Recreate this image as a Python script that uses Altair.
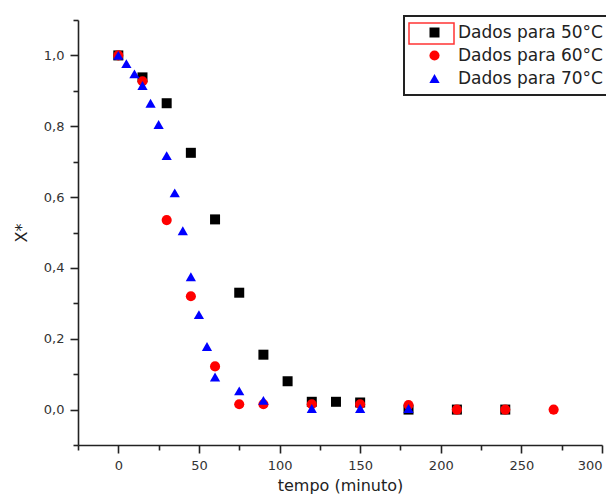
import altair as alt
import pandas as pd

series = ["Dados para 50°C", "Dados para 60°C", "Dados para 70°C"]

t50 = [0, 15, 30, 45, 60, 75, 90, 105, 120, 135, 150, 180, 210, 240]
x50 = [1.0, 0.938, 0.865, 0.725, 0.537, 0.33, 0.155, 0.08, 0.022, 0.022, 0.02, 0.0, 0.0, 0.0]

t60 = [0, 15, 30, 45, 60, 75, 90, 120, 150, 180, 210, 240, 270]
x60 = [1.0, 0.927, 0.535, 0.32, 0.122, 0.015, 0.015, 0.015, 0.015, 0.013, 0.0, 0.0, 0.0]

t70 = [0, 5, 10, 15, 20, 25, 30, 35, 40, 45, 50, 55, 60, 75, 90, 120, 150, 180]
x70 = [1.0, 0.977, 0.948, 0.915, 0.865, 0.805, 0.717, 0.612, 0.505, 0.375, 0.268, 0.178,
       0.092, 0.053, 0.026, 0.003, 0.003, 0.003]

x_ticks = [-25, 0, 25, 50, 75, 100, 125, 150, 175, 200, 225, 250, 275, 300]
y_ticks = [-0.1, 0.0, 0.1, 0.2, 0.3, 0.4, 0.5, 0.6, 0.7, 0.8, 0.9, 1.0, 1.1]

rows = []
for name, ts, xs in zip(series, [t50, t60, t70], [x50, x60, x70]):
    for t, v in zip(ts, xs):
        rows.append({"tempo": t, "X": v, "serie": name})
df = pd.DataFrame(rows)

axis_color = "#222222"
font = "DejaVu Sans"

points = alt.Chart(df).mark_point(filled=True, opacity=1, strokeWidth=0).encode(
    x=alt.X("tempo:Q",
            scale=alt.Scale(domain=[-25, 300], nice=False, zero=False),
            axis=alt.Axis(values=x_ticks, title="tempo (minuto)", grid=False,
                          labelExpr="datum.value % 50 === 0 ? datum.label : ''",
                          tickSize={"condition": {"test": "datum.value % 50 === 0", "value": 8}, "value": 5},
                          labelPadding=6, titlePadding=5)),
    y=alt.Y("X:Q",
            scale=alt.Scale(domain=[-0.1, 1.1], nice=False, zero=False),
            axis=alt.Axis(values=y_ticks, title="X*", grid=False,
                          labelExpr="abs(round(datum.value*10)) % 2 === 0 ? replace(format(datum.value, '.1f'), '.', ',') : ''",
                          tickSize={"condition": {"test": "abs(round(datum.value*10)) % 2 === 0", "value": 8}, "value": 5},
                          labelPadding=6, titlePadding=14)),
    color=alt.Color("serie:N", scale=alt.Scale(domain=series, range=["black", "red", "blue"]),
                    legend=alt.Legend(title=None, orient="none", legendX=326, legendY=-4,
                                      strokeColor="#222222", padding=8,
                                      symbolSize=60, symbolOffset=14, labelOffset=15,
                                      labelFontSize=17, labelFont=font, labelColor="#222222",
                                      rowPadding=5, symbolStrokeWidth=0)),
    shape=alt.Shape("serie:N", scale=alt.Scale(domain=series, range=["square", "circle", "triangle-up"])),
    size=alt.Size("serie:N", scale=alt.Scale(domain=series, range=[100, 105, 230]), legend=None),
    order=alt.Order("serie:N"),
)

marker_box = alt.Chart(pd.DataFrame({"a": [0]})).mark_rect(
    fill=None, stroke="#ff3333", strokeWidth=1.5
).encode(x=alt.value(331), x2=alt.value(376), y=alt.value(3), y2=alt.value(24))

chart = alt.layer(points, marker_box).properties(
    width=524, height=425,
    autosize=alt.AutoSizeParams(type="none"),
    padding={"left": 70, "top": 12, "right": 4, "bottom": 51},
).configure_view(stroke=None).configure_axis(
    domainColor=axis_color, domainWidth=1.6, tickColor=axis_color, tickWidth=1.6,
    labelFont=font, labelFontSize=13, labelColor="#333333",
    titleFont=font, titleFontSize=16, titleFontWeight="normal", titleColor="#222222",
).configure_legend(strokeWidth=2)

chart.save("out.html", embed_options={"renderer": "svg", "actions": False})
